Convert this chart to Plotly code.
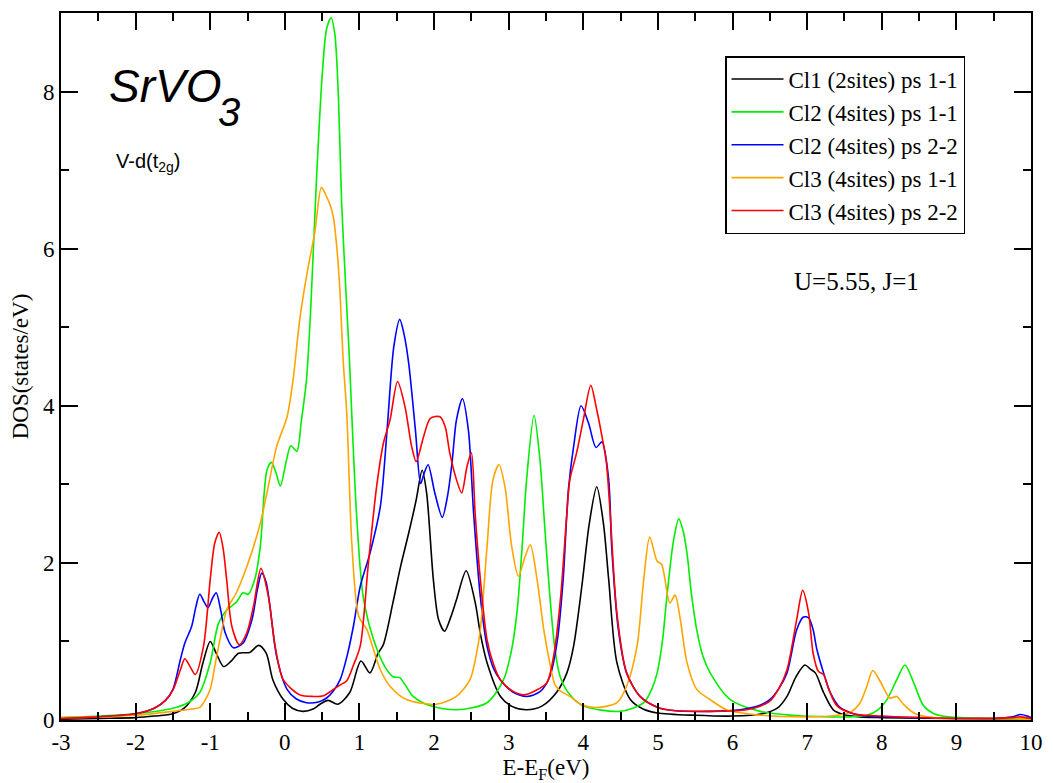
import plotly.graph_objects as go

# ---- data ----
cl1_x = [-3, -2.5, -2, -1.75, -1.5, -1.35, -1.2, -1.1, -1.0, -0.92, -0.82, -0.72, -0.62, -0.47, -0.35, -0.25,
         -0.16, -0.02, 0.1, 0.24, 0.38, 0.47, 0.58, 0.71, 0.87, 1.02, 1.14, 1.25, 1.32, 1.45, 1.55, 1.66, 1.76,
         1.84, 1.90, 1.99, 2.06, 2.14, 2.22, 2.30, 2.43, 2.55, 2.62, 2.71, 2.89, 3.05, 3.24, 3.45, 3.64, 3.78,
         3.87, 3.98, 4.08, 4.18, 4.27, 4.34, 4.45, 4.63, 4.80, 4.99, 5.5, 6.0, 6.4, 6.6, 6.73, 6.85, 6.97, 7.04,
         7.11, 7.22, 7.35, 7.49, 7.7, 8.0, 9.0, 10.0]
cl1_y = [0.01, 0.02, 0.03, 0.05, 0.08, 0.15, 0.35, 0.72, 1.0, 0.85, 0.68, 0.75, 0.85, 0.86, 0.95, 0.85,
         0.51, 0.26, 0.15, 0.11, 0.14, 0.2, 0.25, 0.2, 0.35, 0.75, 0.6, 0.85, 0.96, 1.5, 1.95, 2.38, 2.8,
         3.18, 2.89, 1.79, 1.28, 1.13, 1.3, 1.53, 1.90, 1.5, 1.1, 0.73, 0.30, 0.17, 0.13, 0.18, 0.35, 0.6,
         0.94, 1.70, 2.5, 2.97, 2.5, 1.79, 0.73, 0.26, 0.14, 0.09, 0.06, 0.05, 0.08, 0.15, 0.3, 0.55, 0.70, 0.65,
         0.60, 0.35, 0.13, 0.07, 0.04, 0.03, 0.02, 0.01]

cl2a_x = [-3, -2.5, -2, -1.5, -1.3, -1.14, -1.0, -0.89, -0.78, -0.65, -0.56, -0.49, -0.40, -0.33, -0.24, -0.18,
          -0.12, -0.06, 0.02, 0.08, 0.16, 0.22, 0.29, 0.35, 0.42, 0.50, 0.56, 0.62, 0.67, 0.72, 0.76, 0.82, 0.86,
          0.96, 1.05, 1.19, 1.34, 1.45, 1.54, 1.61, 1.72, 1.95, 2.30, 2.71, 2.93, 3.03, 3.11, 3.18, 3.24, 3.34,
          3.42, 3.48, 3.55, 3.62, 3.69, 3.82, 4.0, 4.49, 4.81, 4.92, 4.99, 5.06, 5.12, 5.21, 5.28, 5.34, 5.39,
          5.45, 5.52, 5.60, 5.70, 5.97, 6.37, 6.8, 7.3, 7.6, 7.8, 7.95, 8.07, 8.20, 8.31, 8.43, 8.56, 8.7, 8.9,
          9.5, 10.0]
cl2a_y = [0.03, 0.05, 0.08, 0.15, 0.22, 0.35, 0.73, 1.23, 1.40, 1.5, 1.62, 1.60, 1.8, 2.2, 3.18, 3.28,
          3.15, 2.98, 3.3, 3.49, 3.42, 3.8, 4.33, 5.3, 6.8, 8.2, 8.8, 8.94, 8.73, 7.88, 6.61, 5.43, 4.7,
          2.63, 1.57, 1.02, 0.68, 0.55, 0.54, 0.45, 0.30, 0.18, 0.13, 0.22, 0.51, 0.85, 1.36, 2.2, 3.06, 3.88,
          3.3, 2.5, 1.6, 0.9, 0.55, 0.32, 0.18, 0.11, 0.22, 0.4, 0.6, 1.0, 1.57, 2.29, 2.56, 2.4, 2.12,
          1.6, 1.15, 0.82, 0.6, 0.26, 0.11, 0.06, 0.04, 0.04, 0.06, 0.13, 0.26, 0.51, 0.70, 0.47, 0.18, 0.08, 0.04,
          0.02, 0.01]

cl2b_x = [-3, -2.5, -2, -1.75, -1.6, -1.5, -1.40, -1.34, -1.25, -1.19, -1.14, -1.08, -1.03, -0.97, -0.92, -0.86,
          -0.80, -0.69, -0.56, -0.44, -0.37, -0.31, -0.25, -0.20, -0.11, 0.03, 0.15, 0.29, 0.45, 0.56, 0.65, 0.74,
          0.83, 0.92, 1.01, 1.14, 1.28, 1.37, 1.46, 1.54, 1.60, 1.66, 1.75, 1.82, 1.87, 1.92, 2.01, 2.11, 2.18,
          2.24, 2.30, 2.38, 2.46, 2.53, 2.62, 2.71, 2.80, 2.89, 3.05, 3.24, 3.42, 3.55, 3.65, 3.73, 3.80, 3.87,
          3.97, 4.07, 4.17, 4.25, 4.34, 4.38, 4.47, 4.58, 4.76, 5.0, 5.21, 5.7, 6.10, 6.35, 6.50, 6.62, 6.73,
          6.86, 6.95, 7.02, 7.08, 7.13, 7.22, 7.31, 7.44, 7.62, 7.80, 8.5, 9.5, 9.75, 9.86, 9.95, 10.0]
cl2b_y = [0.02, 0.04, 0.08, 0.15, 0.25, 0.39, 0.77, 0.98, 1.19, 1.45, 1.60, 1.50, 1.43, 1.55, 1.62, 1.4,
          1.11, 0.92, 0.98, 1.28, 1.65, 1.87, 1.75, 1.45, 0.81, 0.39, 0.27, 0.22, 0.23, 0.28, 0.37, 0.51,
          0.8, 1.2, 1.70, 2.12, 2.72, 3.69, 4.75, 5.10, 4.9, 4.54, 3.69, 3.01, 3.15, 3.25, 2.89, 2.58, 2.85,
          3.27, 3.82, 4.09, 3.69, 2.63, 1.57, 0.94, 0.65, 0.51, 0.36, 0.30, 0.36, 0.55, 1.0, 1.79, 2.93, 3.48,
          4.0, 3.78, 3.47, 3.54, 3.06, 2.21, 1.15, 0.60, 0.30, 0.16, 0.12, 0.11, 0.13, 0.18, 0.26, 0.4, 0.6,
          1.15, 1.31, 1.30, 1.15, 0.90, 0.60, 0.35, 0.16, 0.08, 0.05, 0.03, 0.02, 0.04, 0.07, 0.05, 0.03]

cl3a_x = [-3, -2.5, -2, -1.5, -1.25, -1.14, -1.07, -1.0, -0.93, -0.87, -0.78, -0.65, -0.51, -0.33, -0.24, -0.11,
          0.03, 0.11, 0.2, 0.3, 0.4, 0.49, 0.55, 0.61, 0.65, 0.70, 0.74, 0.78, 0.83, 0.90, 0.99, 1.10, 1.16, 1.28,
          1.41, 1.63, 2.03, 2.30, 2.48, 2.56, 2.62, 2.71, 2.79, 2.87, 2.95, 3.04, 3.13, 3.22, 3.29, 3.38, 3.47,
          3.55, 3.62, 3.69, 3.82, 3.96, 4.18, 4.45, 4.58, 4.72, 4.81, 4.89, 4.99, 5.05, 5.16, 5.23, 5.30, 5.39,
          5.52, 5.70, 5.92, 6.28, 7.0, 7.4, 7.58, 7.71, 7.80, 7.88, 7.98, 8.11, 8.20, 8.29, 8.43, 8.69, 9.5, 10.0]
cl3a_y = [0.03, 0.04, 0.06, 0.11, 0.14, 0.16, 0.25, 0.39, 0.73, 1.02, 1.40, 1.62, 1.95, 2.5, 2.89, 3.48,
          3.86, 4.33, 5.1, 5.7, 6.2, 6.78, 6.68, 6.55, 6.40, 5.98, 5.43, 4.6, 3.9, 2.21, 1.32, 1.15, 0.98, 0.64,
          0.43, 0.26, 0.20, 0.30, 0.51, 0.8, 1.15, 2.21, 3.06, 3.25, 2.97, 2.21, 1.83, 2.08, 2.23, 1.79, 1.15,
          0.73, 0.45, 0.37, 0.30, 0.20, 0.16, 0.22, 0.43, 0.94, 1.79, 2.33, 2.02, 1.98, 1.49, 1.59, 1.28, 0.73,
          0.39, 0.26, 0.13, 0.07, 0.04, 0.06, 0.1, 0.22, 0.43, 0.63, 0.49, 0.28, 0.30, 0.20, 0.09, 0.03, 0.02, 0.01]

cl3b_x = [-3, -2.5, -2, -1.75, -1.6, -1.5, -1.40, -1.34, -1.27, -1.20, -1.09, -1.0, -0.94, -0.88, -0.83, -0.78,
          -0.71, -0.61, -0.51, -0.42, -0.32, -0.22, -0.13, -0.02, 0.20, 0.38, 0.52, 0.65, 0.75, 0.83, 0.92, 1.01,
          1.12, 1.23, 1.32, 1.41, 1.51, 1.61, 1.70, 1.76, 1.86, 1.95, 2.08, 2.15, 2.21, 2.30, 2.37, 2.44, 2.50,
          2.55, 2.62, 2.71, 2.80, 2.89, 3.05, 3.20, 3.35, 3.51, 3.60, 3.69, 3.78, 3.82, 3.91, 4.0, 4.10, 4.18,
          4.25, 4.31, 4.36, 4.45, 4.58, 4.76, 5.0, 5.21, 5.7, 6.10, 6.35, 6.50, 6.62, 6.73, 6.86, 6.94, 7.02,
          7.08, 7.15, 7.22, 7.29, 7.40, 7.62, 8.0, 9.0, 9.75, 9.86, 10.0]
cl3b_y = [0.02, 0.04, 0.08, 0.15, 0.25, 0.38, 0.64, 0.78, 0.68, 0.58, 0.94, 1.79, 2.25, 2.39, 2.2, 1.79,
          1.19, 0.96, 1.11, 1.45, 1.93, 1.57, 0.94, 0.51, 0.32, 0.30, 0.31, 0.39, 0.45, 0.5, 0.7, 0.94,
          2.0, 2.97, 3.52, 3.82, 4.31, 3.99, 3.48, 3.29, 3.61, 3.84, 3.86, 3.73, 3.40, 3.06, 2.89, 3.22, 3.40,
          2.63, 1.79, 1.02, 0.7, 0.51, 0.37, 0.32, 0.37, 0.47, 0.8, 1.5, 2.63, 3.06, 3.40, 3.82, 4.26, 3.95,
          3.61, 3.27, 2.63, 1.36, 0.60, 0.30, 0.16, 0.12, 0.11, 0.12, 0.17, 0.24, 0.4, 0.64, 1.28, 1.65, 1.36,
          0.85, 0.62, 0.58, 0.39, 0.18, 0.08, 0.05, 0.02, 0.03, 0.04, 0.02]

series_names = ["Cl1 (2sites) ps 1-1", "Cl2 (4sites) ps 1-1", "Cl2 (4sites) ps 2-2",
                "Cl3 (4sites) ps 1-1", "Cl3 (4sites) ps 2-2"]
series_x = [cl1_x, cl2a_x, cl2b_x, cl3a_x, cl3b_x]
series_y = [cl1_y, cl2a_y, cl2b_y, cl3a_y, cl3b_y]
colors = ["#000000", "#00ee00", "#0000ff", "#ffa500", "#ff0000"]

x_ticks = list(range(-3, 11))
y_ticks = [0, 2, 4, 6, 8]

SERIF = "Liberation Serif, Times New Roman, serif"
SANS = "Liberation Sans, Arial, sans-serif"

# the page body adds an 8px offset
W, H = 1037, 775
L, R, T, B = 53, 14, 5, 63
PW, PH = W - L - R, H - T - B


def px(xpage):
    return (xpage - 8 - L) / PW


def py(ypage):
    return 1 - (ypage - 8 - T) / PH


fig = go.Figure()
for i, (name, xs, ys, c) in enumerate(zip(series_names, series_x, series_y, colors)):
    fig.add_trace(go.Scatter(
        x=xs, y=ys, mode="lines", name=name, legendgroup=f"g{i}",
        line=dict(color=c, width=1.6, shape="spline", smoothing=0.8),
    ))

axis_common = dict(
    showline=True, linecolor="black", linewidth=2, mirror="allticks",
    ticks="inside", ticklen=17, tickwidth=1.5, tickcolor="black",
    showgrid=False, zeroline=False, automargin=False,
    tickfont=dict(family=SERIF, size=23, color="black"),
)

fig.update_xaxes(
    range=[-3, 10], tickvals=x_ticks, ticktext=[str(v) for v in x_ticks],
    minor=dict(ticks="inside", ticklen=8, tickwidth=1.5, tickcolor="black", dtick=0.5, showgrid=False),
    title=dict(text="E-E<sub>F</sub>(eV)", font=dict(family=SERIF, size=23, color="black"), standoff=10),
    **axis_common,
)
fig.update_yaxes(
    range=[0, 9], tickvals=y_ticks, ticktext=[str(v) for v in y_ticks],
    minor=dict(ticks="inside", ticklen=8, tickwidth=1.5, tickcolor="black", dtick=1, showgrid=False),
    title=dict(text="DOS(states/eV)", font=dict(family=SERIF, size=23, color="black"), standoff=10),
    **axis_common,
)

fig.update_layout(
    width=W, height=H,
    margin=dict(l=L, r=R, t=T, b=B),
    paper_bgcolor="white", plot_bgcolor="white",
    showlegend=True,
    legend=dict(
        x=px(725), y=py(56), xanchor="left", yanchor="top",
        bordercolor="black", borderwidth=1.5, bgcolor="white",
        font=dict(family=SERIF, size=23, color="black"),
        tracegroupgap=0, itemwidth=52,
    ),
    annotations=[
        dict(text="<i>SrVO</i>", xref="paper", yref="paper", x=px(107), y=py(86),
             xanchor="left", yanchor="middle", showarrow=False,
             font=dict(family=SANS, size=46, color="black")),
        dict(text="<i>3</i>", xref="paper", yref="paper", x=px(216), y=py(112),
             xanchor="left", yanchor="middle", showarrow=False,
             font=dict(family=SANS, size=40, color="black")),
        dict(text="V-d(t<sub>2g</sub>)", xref="paper", yref="paper", x=px(114), y=py(162),
             xanchor="left", yanchor="middle", showarrow=False,
             font=dict(family=SANS, size=20, color="black")),
        dict(text="U=5.55, J=1", xref="paper", yref="paper", x=px(856), y=py(282),
             xanchor="center", yanchor="middle", showarrow=False,
             font=dict(family=SERIF, size=25, color="black")),
    ],
)

fig.write_html("out.html")
